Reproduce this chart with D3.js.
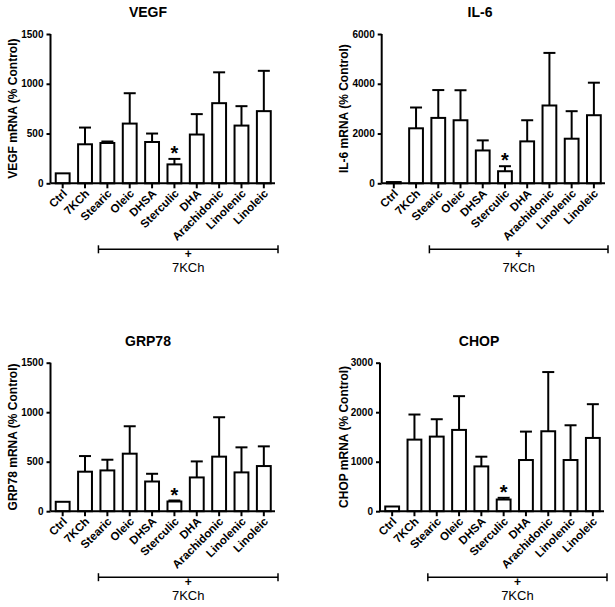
<!DOCTYPE html>
<html><head><meta charset="utf-8">
<script src="https://cdn.jsdelivr.net/npm/d3@7/dist/d3.min.js"></script>
<style>body{margin:0;background:#fff}svg{display:block}text{font-family:"Liberation Sans",Arial,sans-serif}</style>
</head><body>
<script>
const categories = ["Ctrl","7KCh","Stearic","Oleic","DHSA","Sterculic","DHA","Arachidonic","Linolenic","Linoleic"];
const vegfMean = [100,392,405,600,415,190,490,805,580,725];
const vegfErr  = [100,560,420,905,500,245,695,1115,775,1130];
const il6Mean  = [50,2210,2628,2534,1320,485,1685,3127,1792,2736];
const il6Err   = [50,3046,3747,3740,1725,687,2534,5240,2898,4043];
const grpMean  = [95,399,412,581,300,98,341,551,392,456];
const grpErr   = [95,557,520,858,378,108,503,949,645,655];
const chopMean = [95,1446,1507,1642,905,236,1034,1615,1034,1480];
const chopErr  = [95,1953,1858,2324,1101,270,1608,2811,1736,2162];
const vegfTicks = [0,500,1000,1500];
const il6Ticks  = [0,2000,4000,6000];
const grpTicks  = [0,500,1000,1500];
const chopTicks = [0,1000,2000,3000];
const titles = ["VEGF","IL-6","GRP78","CHOP"];
const yLabels = ["VEGF mRNA (% Control)","IL-6 mRNA (% Control)","GRP78 mRNA (% Control)","CHOP mRNA (% Control)"];
const bracketStart = "Stearic";
const bracketText = ["+","7KCh"];
const starCategory = "Sterculic";

const panels = [
  {title:titles[0], ylab:yLabels[0], mean:vegfMean, err:vegfErr, ticks:vegfTicks, left:50.5, right:275, top:34, bottom:183.3, titleX:148, ylabX:13},
  {title:titles[1], ylab:yLabels[1], mean:il6Mean, err:il6Err, ticks:il6Ticks, left:381.7, right:605, top:34, bottom:183.3, titleX:480, ylabX:344},
  {title:titles[2], ylab:yLabels[2], mean:grpMean, err:grpErr, ticks:grpTicks, left:50.5, right:275, top:362.7, bottom:511.2, titleX:148, ylabX:13},
  {title:titles[3], ylab:yLabels[3], mean:chopMean, err:chopErr, ticks:chopTicks, left:380, right:604, top:362.7, bottom:511.2, titleX:479, ylabX:344}
];

const svg = d3.select("body").append("svg").attr("width",615).attr("height",607);

panels.forEach(p => {
  const g = svg.append("g");
  const x = d3.scaleBand().domain(categories).range([p.left+1, p.right]).paddingInner(0.29).paddingOuter(0.145);
  const y = d3.scaleLinear().domain([p.ticks[0], p.ticks[p.ticks.length-1]]).range([p.bottom, p.top]);
  const bw = x.bandwidth();

  g.append("text").attr("x",p.titleX).attr("y",p.top-17).attr("text-anchor","middle")
    .attr("font-size",14).attr("font-weight","bold").text(p.title);
  g.append("text").attr("transform",`translate(${p.ylabX+4},${(p.top+p.bottom)/2}) rotate(-90)`)
    .attr("text-anchor","middle").attr("font-size",12).attr("font-weight","bold").text(p.ylab);

  const eg = g.append("g").attr("stroke","#000").attr("stroke-width",2).attr("fill","none");
  categories.forEach((c,i) => {
    const cx = x(c)+bw/2;
    if (p.err[i] > p.mean[i]) {
      eg.append("line").attr("x1",cx).attr("x2",cx).attr("y1",y(p.mean[i])).attr("y2",y(p.err[i]));
      eg.append("line").attr("x1",cx-6).attr("x2",cx+6).attr("y1",y(p.err[i])).attr("y2",y(p.err[i]));
    }
  });
  g.append("g").selectAll("rect").data(categories).join("rect")
    .attr("x",c=>x(c)+1).attr("width",bw-2)
    .attr("y",(c,i)=>y(p.mean[i])).attr("height",(c,i)=>p.bottom-y(p.mean[i]))
    .attr("fill","#fff").attr("stroke","#000").attr("stroke-width",2);

  const si = categories.indexOf(starCategory);
  g.append("text").attr("x",x(starCategory)+bw/2).attr("y",y(p.err[si])+1)
    .attr("text-anchor","middle").attr("font-size",20).attr("font-weight","bold").text("*");

  const ya = g.append("g").attr("transform",`translate(${p.left},0)`)
    .call(d3.axisLeft(y).tickValues(p.ticks).tickSize(4).tickPadding(3).tickFormat(d3.format("d")));
  ya.select(".domain").attr("stroke-width",2).attr("d",`M0,${p.top}V${p.bottom}`);
  ya.selectAll(".tick line").attr("stroke-width",2);
  ya.selectAll("text").attr("font-size",10).attr("font-weight","bold").attr("font-family","Liberation Sans, Arial, sans-serif");

  const xa = g.append("g").attr("transform",`translate(0,${p.bottom})`)
    .call(d3.axisBottom(x).tickSize(5).tickSizeOuter(0));
  xa.select(".domain").attr("stroke-width",2).attr("d",`M${p.left},0H${p.right}`);
  xa.selectAll(".tick line").attr("stroke-width",2);
  xa.selectAll("text").attr("font-size",11.5).attr("font-weight","bold")
    .attr("font-family","Liberation Sans, Arial, sans-serif")
    .attr("text-anchor","end").attr("dy",0).attr("y",0)
    .attr("transform","translate(5,11) rotate(-45)");

  const by = p.bottom + 66;
  const bx1 = x(bracketStart) - 1, bx2 = p.right + 3;
  const bg = g.append("g").attr("stroke","#000").attr("stroke-width",1.5);
  bg.append("line").attr("x1",bx1).attr("x2",bx2).attr("y1",by).attr("y2",by);
  bg.append("line").attr("x1",bx1).attr("x2",bx1).attr("y1",by-4).attr("y2",by+4);
  bg.append("line").attr("x1",bx2).attr("x2",bx2).attr("y1",by-4).attr("y2",by+4);
  g.append("text").attr("x",(bx1+bx2)/2).attr("y",by+9).attr("text-anchor","middle")
    .attr("font-size",12).attr("font-weight","bold").text(bracketText[0]);
  g.append("text").attr("x",(bx1+bx2)/2).attr("y",by+23).attr("text-anchor","middle")
    .attr("font-size",13).text(bracketText[1]);
});
</script>
</body></html>
